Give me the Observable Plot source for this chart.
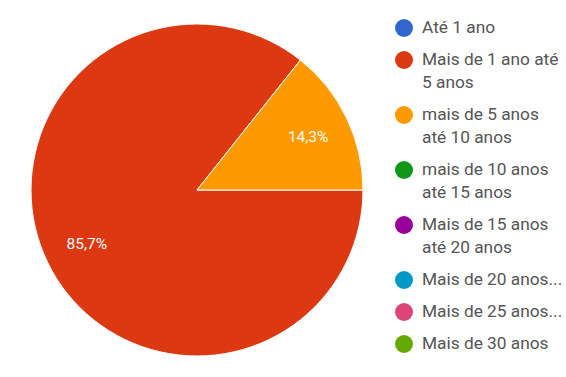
<!DOCTYPE html>
<html>
<head>
<meta charset="utf-8">
<script src="https://cdn.jsdelivr.net/npm/d3@7"></script>
<script src="https://cdn.jsdelivr.net/npm/@observablehq/plot@0.6"></script>
<style>
  html, body { margin: 0; padding: 0; background: #fff; }
  #wrap { position: relative; width: 566px; height: 377px; overflow: hidden; font-family: Roboto, "Noto Sans", sans-serif; }
  #chart { position: absolute; left: 0; top: 0; }
  #legend { position: absolute; left: 395px; top: 16px; width: 171px; overflow: hidden; }
  .item { display: flex; align-items: flex-start; margin-bottom: 9px; }
  .sw { flex: none; width: 18px; height: 18px; border-radius: 50%; margin-top: 2.5px; margin-right: 9px; }
  .lines { flex: none; font-size: 17.3px; line-height: 23px; color: #555; white-space: nowrap; }
</style>
</head>
<body>
<div id="wrap"><div id="chart"></div><div id="legend"></div></div>
<script>
const categories = [
  "Até 1 ano",
  "Mais de 1 ano até 5 anos",
  "mais de 5 anos até 10 anos",
  "mais de 10 anos até 15 anos",
  "Mais de 15 anos até 20 anos",
  "Mais de 20 anos...",
  "Mais de 25 anos...",
  "Mais de 30 anos"
];
const legendLines = [
  ["Até 1 ano"],
  ["Mais de 1 ano até", "5 anos"],
  ["mais de 5 anos", "até 10 anos"],
  ["mais de 10 anos", "até 15 anos"],
  ["Mais de 15 anos", "até 20 anos"],
  ["Mais de 20 anos..."],
  ["Mais de 25 anos..."],
  ["Mais de 30 anos"]
];
const values = [0, 85.7, 14.3, 0, 0, 0, 0, 0];
const colors = ["#3366cc", "#dc3912", "#ff9900", "#109618", "#990099", "#0099c6", "#dd4477", "#66aa00"];

const data = categories.map((c, i) => ({category: c, value: values[i], color: colors[i]}));
const arcs = d3.pie().value(d => d.value).sort(null)
  .startAngle(Math.PI / 2).endAngle(Math.PI / 2 + 2 * Math.PI)(data);
const shown = arcs.filter(a => a.value > 0);
const labelR = 0.74;
const labels = shown.map(a => {
  const mid = (a.startAngle + a.endAngle) / 2;
  return {x: labelR * Math.sin(mid), y: labelR * Math.cos(mid),
          text: a.value.toFixed(1).replace(".", ",") + "%"};
});

function pieMark(index, scales) {
  const cx = scales.x(0), cy = scales.y(0), r = scales.x(1) - scales.x(0);
  const g = d3.create("svg:g").attr("transform", `translate(${cx},${cy})`);
  g.selectAll("path").data(shown).join("path")
    .attr("d", d3.arc().innerRadius(0).outerRadius(r))
    .attr("fill", d => d.data.color)
    .attr("stroke", "#fff").attr("stroke-width", 1);
  return g.node();
}

const chart = Plot.plot({
  width: 380, height: 377,
  marginLeft: 31, marginRight: 17, marginTop: 24, marginBottom: 21,
  x: {domain: [-1, 1], axis: null},
  y: {domain: [-1, 1], axis: null},
  marks: [
    pieMark,
    Plot.text(labels, {x: "x", y: "y", text: "text", fill: "#fff",
      fontSize: 15.5, fontFamily: "Roboto, sans-serif"})
  ]
});
document.getElementById("chart").appendChild(chart);

const legend = d3.select("#legend");
const items = legend.selectAll(".item").data(data).join("div").attr("class", "item");
items.append("span").attr("class", "sw").style("background", d => d.color);
items.append("div").attr("class", "lines")
  .html((d, i) => legendLines[i].map(s => `<div>${s}</div>`).join(""));
</script>
</body>
</html>
